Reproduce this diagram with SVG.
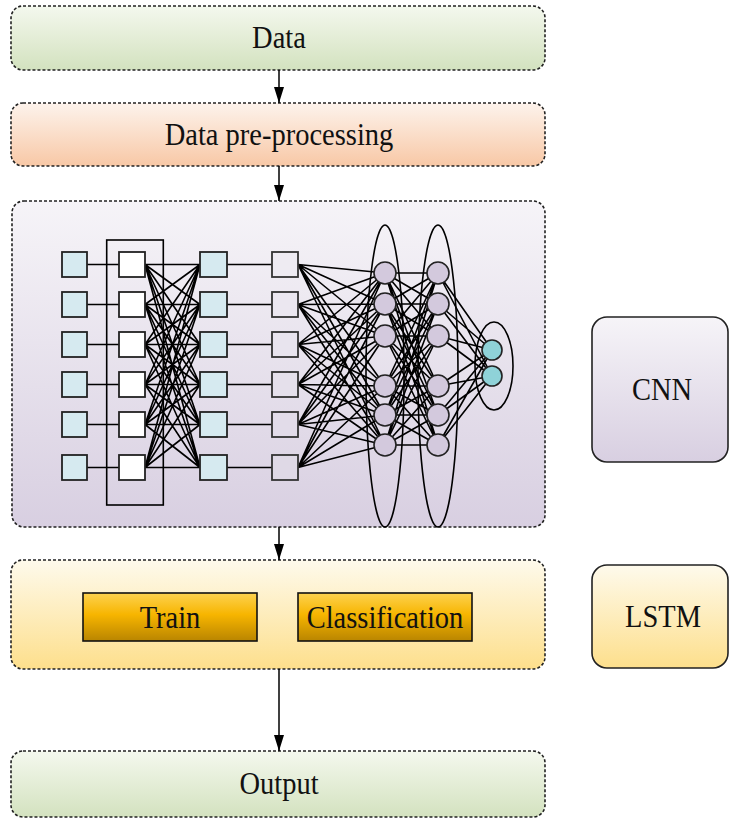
<svg xmlns="http://www.w3.org/2000/svg" width="729" height="823" viewBox="0 0 729 823">
<defs>
<linearGradient id="gGreen" x1="0" y1="0" x2="0" y2="1"><stop offset="0" stop-color="#f4f8ee"/><stop offset="1" stop-color="#d3e2bf"/></linearGradient>
<linearGradient id="gPeach" x1="0" y1="0" x2="0" y2="1"><stop offset="0" stop-color="#fdf3ec"/><stop offset="1" stop-color="#f8c8a6"/></linearGradient>
<linearGradient id="gLav" x1="0" y1="0" x2="0" y2="1"><stop offset="0" stop-color="#f6f4f8"/><stop offset="1" stop-color="#d8cfe1"/></linearGradient>
<linearGradient id="gYel" x1="0" y1="0" x2="0" y2="1"><stop offset="0" stop-color="#fefaec"/><stop offset="1" stop-color="#fddf8c"/></linearGradient>
<linearGradient id="gGold" x1="0" y1="0" x2="0" y2="1"><stop offset="0" stop-color="#fdd250"/><stop offset="0.45" stop-color="#f7b500"/><stop offset="1" stop-color="#b98500"/></linearGradient>
<marker id="arr" viewBox="0 0 16 10" refX="16" refY="5" markerWidth="16" markerHeight="10" markerUnits="userSpaceOnUse" orient="auto"><path d="M0,0 L16,5 L0,10 z" fill="#000"/></marker>
</defs>
<style>
.dash{stroke:#222;stroke-width:1.6;stroke-dasharray:3 2;}
.side{stroke:#222;stroke-width:1.6;}
.lbl{font-family:"Liberation Serif","Times New Roman",serif;font-size:31px;fill:#111;text-anchor:middle;}
.gold{stroke:#111;stroke-width:1.6;fill:url(#gGold);}
.net{stroke:#000;stroke-width:1.6;fill:none;}
.sqb{fill:#d6eaf0;stroke:#222;stroke-width:1.8;}
.sqw{fill:#fff;stroke:#222;stroke-width:1.8;}
.sqt{stroke:#333;stroke-width:1.8;}
.cl{fill:#d3c9dd;stroke:#222;stroke-width:1.6;}
.ct{fill:#8fd2d8;stroke:#222;stroke-width:1.6;}
.ell{fill:none;stroke:#000;stroke-width:1.6;}
.conn{stroke:#000;stroke-width:1.5;fill:none;}
</style>
<rect width="729" height="823" fill="#fff"/>

<g id="data">
<rect class="dash" x="11" y="6" width="534" height="64" rx="12" fill="url(#gGreen)"/>
<text class="lbl" transform="translate(279,48) scale(0.92,1)">Data</text>
</g>

<g id="preprocessing">
<rect class="dash" x="11" y="103" width="534" height="63" rx="12" fill="url(#gPeach)"/>
<text class="lbl" transform="translate(279,145) scale(0.92,1)">Data pre-processing</text>
</g>

<g id="cnn-block">
<rect class="dash" x="12" y="201" width="533" height="326" rx="12" fill="url(#gLav)"/>
<g id="cnn-network">
<path class="net" d="M87 264.5H119M87 304.5H119M87 344.5H119M87 384.5H119M87 424.5H119M87 467.5H119
M227 264.5H272M227 304.5H272M227 344.5H272M227 384.5H272M227 424.5H272M227 467.5H272"/>
<path class="net" d="M145 264.5L200 264.5M145 264.5L200 304.5M145 264.5L200 344.5M145 264.5L200 384.5M145 264.5L200 424.5M145 264.5L200 467.5
M145 304.5L200 264.5M145 304.5L200 304.5M145 304.5L200 344.5M145 304.5L200 384.5M145 304.5L200 424.5M145 304.5L200 467.5
M145 344.5L200 264.5M145 344.5L200 304.5M145 344.5L200 344.5M145 344.5L200 384.5M145 344.5L200 424.5M145 344.5L200 467.5
M145 384.5L200 264.5M145 384.5L200 304.5M145 384.5L200 344.5M145 384.5L200 384.5M145 384.5L200 424.5M145 384.5L200 467.5
M145 424.5L200 264.5M145 424.5L200 304.5M145 424.5L200 344.5M145 424.5L200 384.5M145 424.5L200 424.5M145 424.5L200 467.5
M145 467.5L200 264.5M145 467.5L200 304.5M145 467.5L200 344.5M145 467.5L200 384.5M145 467.5L200 424.5M145 467.5L200 467.5"/>
<path class="net" d="M298 264.5L385 273M298 264.5L385 304M298 264.5L385 336M298 264.5L385 386M298 264.5L385 415M298 264.5L385 445
M298 304.5L385 273M298 304.5L385 304M298 304.5L385 336M298 304.5L385 386M298 304.5L385 415M298 304.5L385 445
M298 344.5L385 273M298 344.5L385 304M298 344.5L385 336M298 344.5L385 386M298 344.5L385 415M298 344.5L385 445
M298 384.5L385 273M298 384.5L385 304M298 384.5L385 336M298 384.5L385 386M298 384.5L385 415M298 384.5L385 445
M298 424.5L385 273M298 424.5L385 304M298 424.5L385 336M298 424.5L385 386M298 424.5L385 415M298 424.5L385 445
M298 467.5L385 273M298 467.5L385 304M298 467.5L385 336M298 467.5L385 386M298 467.5L385 415M298 467.5L385 445"/>
<path class="net" d="M385 273L438 273M385 273L438 304M385 273L438 336M385 273L438 386M385 273L438 415M385 273L438 445
M385 304L438 273M385 304L438 304M385 304L438 336M385 304L438 386M385 304L438 415M385 304L438 445
M385 336L438 273M385 336L438 304M385 336L438 336M385 336L438 386M385 336L438 415M385 336L438 445
M385 386L438 273M385 386L438 304M385 386L438 336M385 386L438 386M385 386L438 415M385 386L438 445
M385 415L438 273M385 415L438 304M385 415L438 336M385 415L438 386M385 415L438 415M385 415L438 445
M385 445L438 273M385 445L438 304M385 445L438 336M385 445L438 386M385 445L438 415M385 445L438 445"/>
<path class="net" d="M438 273L492 350M438 273L492 376M438 304L492 350M438 304L492 376M438 336L492 350M438 336L492 376
M438 386L492 350M438 386L492 376M438 415L492 350M438 415L492 376M438 445L492 350M438 445L492 376"/>
<rect class="net" x="106.7" y="240" width="56.6" height="265"/>
<rect class="sqb" x="62" y="252" width="25" height="25"/>
<rect class="sqb" x="62" y="292" width="25" height="25"/>
<rect class="sqb" x="62" y="332" width="25" height="25"/>
<rect class="sqb" x="62" y="372" width="25" height="25"/>
<rect class="sqb" x="62" y="412" width="25" height="25"/>
<rect class="sqb" x="62" y="455" width="25" height="25"/>
<rect class="sqw" x="119" y="252" width="26" height="25"/>
<rect class="sqw" x="119" y="292" width="26" height="25"/>
<rect class="sqw" x="119" y="332" width="26" height="25"/>
<rect class="sqw" x="119" y="372" width="26" height="25"/>
<rect class="sqw" x="119" y="412" width="26" height="25"/>
<rect class="sqw" x="119" y="455" width="26" height="25"/>
<rect class="sqb" x="200" y="252" width="27" height="25"/>
<rect class="sqb" x="200" y="292" width="27" height="25"/>
<rect class="sqb" x="200" y="332" width="27" height="25"/>
<rect class="sqb" x="200" y="372" width="27" height="25"/>
<rect class="sqb" x="200" y="412" width="27" height="25"/>
<rect class="sqb" x="200" y="455" width="27" height="25"/>
<rect class="sqt" x="272" y="252" width="26" height="25" fill="#eeebf2"/>
<rect class="sqt" x="272" y="292" width="26" height="25" fill="#ebe7f0"/>
<rect class="sqt" x="272" y="332" width="26" height="25" fill="#e8e4ee"/>
<rect class="sqt" x="272" y="372" width="26" height="25" fill="#e5e0eb"/>
<rect class="sqt" x="272" y="412" width="26" height="25" fill="#e2dce9"/>
<rect class="sqt" x="272" y="455" width="26" height="25" fill="#dfd9e6"/>
<ellipse class="ell" cx="385" cy="376" rx="19" ry="151"/>
<ellipse class="ell" cx="438" cy="376" rx="20" ry="151"/>
<ellipse class="ell" cx="494" cy="366" rx="19" ry="44"/>
<circle class="cl" cx="385" cy="273" r="11"/>
<circle class="cl" cx="385" cy="304" r="11"/>
<circle class="cl" cx="385" cy="336" r="11"/>
<circle class="cl" cx="385" cy="386" r="11"/>
<circle class="cl" cx="385" cy="415" r="11"/>
<circle class="cl" cx="385" cy="445" r="11"/>
<circle class="cl" cx="438" cy="273" r="11"/>
<circle class="cl" cx="438" cy="304" r="11"/>
<circle class="cl" cx="438" cy="336" r="11"/>
<circle class="cl" cx="438" cy="386" r="11"/>
<circle class="cl" cx="438" cy="415" r="11"/>
<circle class="cl" cx="438" cy="445" r="11"/>
<circle class="ct" cx="492" cy="350" r="10"/>
<circle class="ct" cx="492" cy="376" r="10"/>
</g>
</g>

<g id="lstm-block">
<rect class="dash" x="11" y="560" width="534" height="109" rx="12" fill="url(#gYel)"/>
<g id="train">
<rect class="gold" x="83" y="593" width="174" height="48"/>
<text class="lbl" transform="translate(170,628) scale(0.92,1)">Train</text>
</g>
<g id="classification">
<rect class="gold" x="298" y="593" width="174" height="48"/>
<text class="lbl" transform="translate(385,628) scale(0.92,1)">Classification</text>
</g>
</g>

<g id="output">
<rect class="dash" x="11" y="751" width="534" height="66" rx="12" fill="url(#gGreen)"/>
<text class="lbl" transform="translate(279,794) scale(0.92,1)">Output</text>
</g>

<g id="cnn-label">
<rect class="side" x="592" y="317" width="136" height="145" rx="15" fill="url(#gLav)"/>
<text class="lbl" transform="translate(662,400) scale(0.92,1)">CNN</text>
</g>

<g id="lstm-label">
<rect class="side" x="592" y="565" width="136" height="103" rx="15" fill="url(#gYel)"/>
<text class="lbl" transform="translate(663,627) scale(0.92,1)">LSTM</text>
</g>

<g id="connectors">
<line class="conn" x1="279" y1="70" x2="279" y2="103" marker-end="url(#arr)"/>
<line class="conn" x1="279" y1="166" x2="279" y2="201" marker-end="url(#arr)"/>
<line class="conn" x1="279" y1="527" x2="279" y2="560" marker-end="url(#arr)"/>
<line class="conn" x1="279" y1="669" x2="279" y2="751" marker-end="url(#arr)"/>
</g>
</svg>
